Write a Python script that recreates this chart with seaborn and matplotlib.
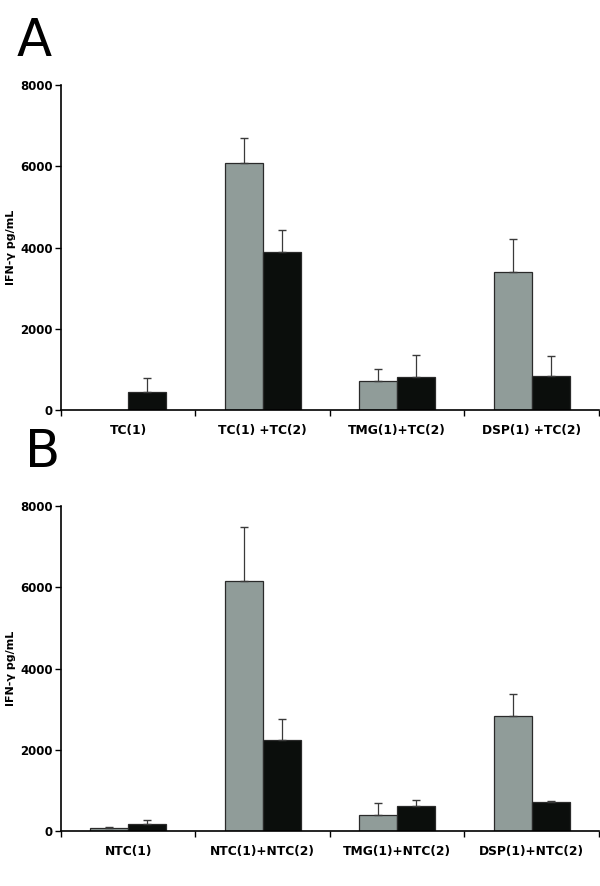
import numpy as np
import pandas as pd
import matplotlib
matplotlib.use("Agg")
import matplotlib.pyplot as plt
import seaborn as sns

sns.set_style("white")
plt.rcParams['font.family'] = ['DejaVu Sans']
plt.rcParams['text.color'] = 'black'
plt.rcParams['axes.labelcolor'] = 'black'
plt.rcParams['xtick.color'] = 'black'
plt.rcParams['ytick.color'] = 'black'

# Panel A data
cats_a = ["TC(1)", "TC(1) +TC(2)", "TMG(1)+TC(2)", "DSP(1) +TC(2)"]
gray_a = [0, 6080, 715, 3405]
gray_a_err = [0, 610, 295, 805]
black_a = [440, 3900, 805, 837]
black_a_err = [355, 525, 550, 485]

# Panel B data
cats_b = ["NTC(1)", "NTC(1)+NTC(2)", "TMG(1)+NTC(2)", "DSP(1)+NTC(2)"]
gray_b = [66, 6160, 386, 2841]
gray_b_err = [40, 1320, 310, 525]
black_b = [165, 2234, 623, 714]
black_b_err = [98, 518, 133, 25]

series = ["s1", "s2"]
colors = ["#8E9E9A", "#0A0F0C"]

fig = plt.figure(figsize=(6, 8.86), dpi=100)


def panel(rect, letter, letter_x, letter_y, cats, g, ge, b, be):
    ax = fig.add_axes(rect)
    df = pd.DataFrame({
        "cat": cats * 2,
        "series": [series[0]] * 4 + [series[1]] * 4,
        "val": g + b,
    })
    sns.barplot(data=df, x="cat", y="val", hue="series", order=cats,
                hue_order=series, palette=colors, width=0.565,
                edgecolor="#2a2a2a", linewidth=0.9, errorbar=None,
                legend=False, ax=ax)
    # error bars (upper only), from bar centres
    errs = ge + be
    vals = g + b
    for p, v, e in zip(ax.patches, vals, errs):
        if e <= 0:
            continue
        xc = p.get_x() + p.get_width() / 2
        ax.errorbar([xc], [v], yerr=[[0], [e]], fmt="none",
                    ecolor="#3a3a3a", elinewidth=0.9, capsize=3,
                    capthick=1.0)
    ax.set_xlim(-0.5, 3.5)
    ax.set_ylim(0, 8000)
    ax.set_yticks([0, 2000, 4000, 6000, 8000])
    ax.set_yticklabels(["0", "2000", "4000", "6000", "8000"],
                       fontsize=8.5, fontweight="bold")
    ax.set_xticks(range(4))
    ax.set_xticklabels(cats, fontsize=8.8, fontweight="bold")
    ax.set_xticks([-0.5, 0.5, 1.5, 2.5, 3.5], minor=True)
    ax.tick_params(axis="x", which="major", length=0, pad=10)
    ax.tick_params(axis="x", which="minor", length=4, width=1,
                   direction="out", bottom=True)
    ax.tick_params(axis="y", length=4, width=1, direction="out", left=True,
                   pad=2)
    ax.set_xlabel("")
    ax.set_ylabel("IFN-γ pg/mL", fontsize=8, fontweight="bold")
    ax.yaxis.set_label_coords(-0.084, 0.5)
    sns.despine(ax=ax)
    for s in ["left", "bottom"]:
        ax.spines[s].set_color("black")
        ax.spines[s].set_linewidth(1.2)
    fig.text(letter_x, letter_y, letter, fontsize=37,
             family=["Liberation Sans Narrow", "DejaVu Sans Condensed",
                     "DejaVu Sans"],
             va="top", ha="left", color="black")
    return ax


panel([0.1017, 0.5372, 0.8963, 0.3668], "A", 0.028, 0.981,
      cats_a, gray_a, gray_a_err, black_a, black_a_err)
panel([0.1017, 0.0621, 0.8963, 0.3665], "B", 0.042, 0.517,
      cats_b, gray_b, gray_b_err, black_b, black_b_err)

fig.savefig("out.png", dpi=100)
